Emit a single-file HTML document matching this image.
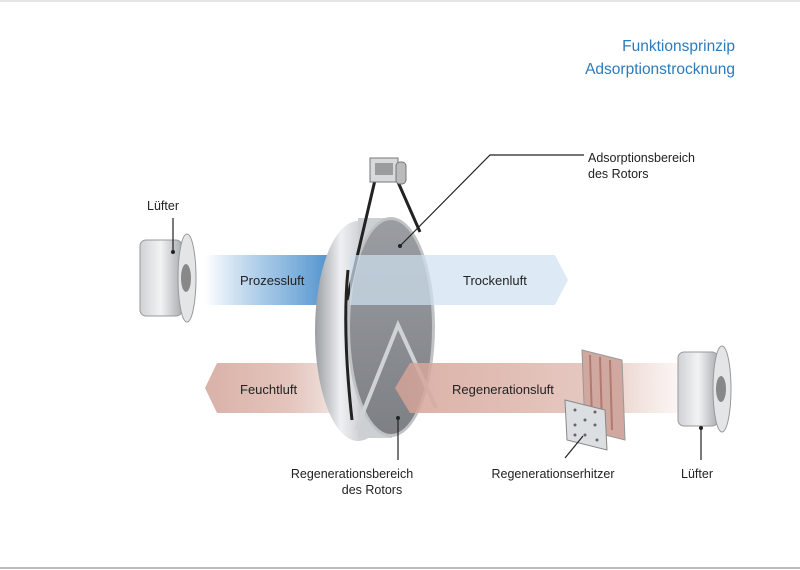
<!DOCTYPE html>
<html><head><meta charset="utf-8"><style>
html,body{margin:0;padding:0;background:#fff;}
svg{display:block;font-family:"Liberation Sans",sans-serif;}
</style></head><body>
<svg width="800" height="570" viewBox="0 0 800 570" xmlns="http://www.w3.org/2000/svg">
<defs>
<linearGradient id="blueIn" x1="0" x2="1"><stop offset="0" stop-color="#2f7fc4" stop-opacity="0"/><stop offset="0.5" stop-color="#4e93cf" stop-opacity="0.6"/><stop offset="1" stop-color="#2f7cc2"/></linearGradient>
<linearGradient id="pinkOut" x1="0" x2="1"><stop offset="0" stop-color="#d9b2a8"/><stop offset="0.6" stop-color="#e3c3bb"/><stop offset="1" stop-color="#d8aca1" stop-opacity="0.3"/></linearGradient>
<linearGradient id="pinkIn" x1="0" x2="1"><stop offset="0" stop-color="#d4a296"/><stop offset="0.7" stop-color="#e2c0b7"/><stop offset="1" stop-color="#efdcd7" stop-opacity="0.2"/></linearGradient>
<linearGradient id="rim" x1="0" x2="1"><stop offset="0" stop-color="#9a9ea2"/><stop offset="0.3" stop-color="#eef0f2"/><stop offset="0.6" stop-color="#c5c8cb"/><stop offset="1" stop-color="#8b8f93"/></linearGradient>
<linearGradient id="face" x1="0" y1="0" x2="0" y2="1"><stop offset="0" stop-color="#9a9da1"/><stop offset="1" stop-color="#7d8084"/></linearGradient>
<linearGradient id="fan" x1="0" x2="1"><stop offset="0" stop-color="#cfd2d5"/><stop offset="0.5" stop-color="#f2f3f4"/><stop offset="1" stop-color="#a9adb1"/></linearGradient>
</defs>
<line x1="0" y1="1" x2="800" y2="1" stroke="#ccc"/>
<line x1="0" y1="568" x2="800" y2="568" stroke="#bbb" stroke-width="2"/>
<text x="735" y="51" text-anchor="end" font-size="15.5" fill="#2b7bbd">Funktionsprinzip</text>
<text x="735" y="74" text-anchor="end" font-size="15.5" fill="#2b7bbd">Adsorptionstrocknung</text>

<polygon points="205,255 340,255 352,280 340,305 205,305" fill="url(#blueIn)"/>
<polygon points="205,388 217,363 335,363 335,413 217,413" fill="url(#pinkOut)"/>

<ellipse cx="358" cy="331" rx="43" ry="110" fill="url(#rim)"/>
<rect x="358" y="218" width="34" height="220" fill="#cdd0d3"/>
<ellipse cx="391" cy="327" rx="44" ry="110" fill="#c0c3c6"/>
<ellipse cx="391" cy="327" rx="41" ry="107" fill="url(#face)"/>
<polyline points="356,430 398,325 436,408" fill="none" stroke="#d0d3d5" stroke-width="4"/>
<path d="M375,180 L347,300 M398,182 L420,232" stroke="#222" stroke-width="3" fill="none"/>
<path d="M348,270 Q342,330 352,420" stroke="#222" stroke-width="3" fill="none"/>
<rect x="370" y="158" width="28" height="24" fill="#d7d9db" stroke="#777"/>
<rect x="396" y="162" width="10" height="22" rx="4" fill="#bbb" stroke="#777"/>
<rect x="375" y="163" width="18" height="12" fill="#9a9c9e"/>

<polygon points="350,255 555,255 568,280 555,305 350,305" fill="#cfe1f1" opacity="0.7"/>
<polygon points="395,388 410,363 690,363 690,413 410,413" fill="url(#pinkIn)" opacity="0.85"/>

<text x="240" y="285" font-size="13" fill="#222">Prozessluft</text>
<text x="463" y="285" font-size="13" fill="#222">Trockenluft</text>
<text x="240" y="394" font-size="13" fill="#222">Feuchtluft</text>
<text x="452" y="394" font-size="13" fill="#222">Regenerationsluft</text>

<polygon points="582,350 622,360 625,440 585,430" fill="#d0a8a0" stroke="#999"/>
<g stroke="#b07a70" stroke-width="2"><line x1="590" y1="355" x2="592" y2="420"/><line x1="600" y1="357" x2="602" y2="425"/><line x1="610" y1="360" x2="612" y2="430"/></g>
<polygon points="565,400 605,410 607,450 567,440" fill="#dcdfe1" stroke="#888"/>
<g fill="#666"><circle cx="575" cy="410" r="1.5"/><circle cx="585" cy="420" r="1.5"/><circle cx="595" cy="425" r="1.5"/><circle cx="575" cy="425" r="1.5"/><circle cx="585" cy="435" r="1.5"/><circle cx="597" cy="440" r="1.5"/><circle cx="595" cy="412" r="1.5"/><circle cx="575" cy="435" r="1.5"/></g>

<g>
<rect x="140" y="240" width="42" height="76" rx="6" fill="url(#fan)" stroke="#999"/>
<ellipse cx="187" cy="278" rx="9" ry="44" fill="#e3e5e7" stroke="#999"/>
<ellipse cx="186" cy="278" rx="5" ry="14" fill="#888"/>
</g>
<g>
<rect x="678" y="352" width="40" height="74" rx="6" fill="url(#fan)" stroke="#999"/>
<ellipse cx="722" cy="389" rx="9" ry="43" fill="#e3e5e7" stroke="#999"/>
<ellipse cx="721" cy="389" rx="5" ry="13" fill="#888"/>
</g>

<g stroke="#222" stroke-width="1.2" fill="none">
<polyline points="584,155 490,155 400,246"/>
<line x1="398" y1="418" x2="398" y2="460"/>
<line x1="565" y1="458" x2="583" y2="436"/>
<line x1="701" y1="428" x2="701" y2="460"/>
<line x1="173" y1="218" x2="173" y2="252"/>
</g>
<g fill="#222"><circle cx="400" cy="246" r="2"/><circle cx="398" cy="418" r="2"/><circle cx="701" cy="428" r="2"/><circle cx="173" cy="252" r="2"/></g>

<g font-size="12.5" fill="#222">
<text x="588" y="162">Adsorptionsbereich</text>
<text x="588" y="178">des Rotors</text>
<text x="163" y="210" text-anchor="middle">Lüfter</text>
<text x="352" y="478" text-anchor="middle">Regenerationsbereich</text>
<text x="372" y="494" text-anchor="middle">des Rotors</text>
<text x="553" y="478" text-anchor="middle">Regenerationserhitzer</text>
<text x="697" y="478" text-anchor="middle">Lüfter</text>
</g>
</svg>
</body></html>
